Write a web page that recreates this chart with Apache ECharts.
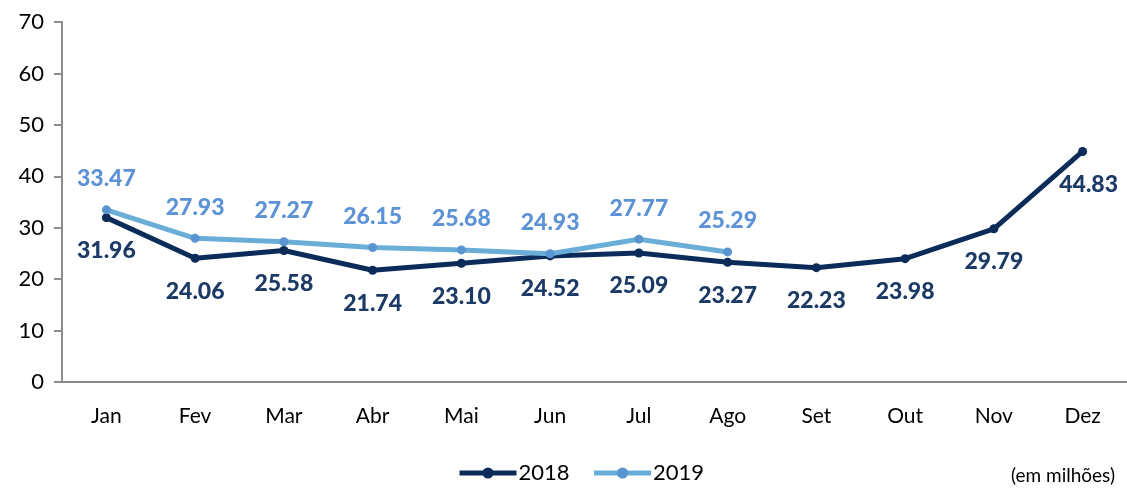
<!DOCTYPE html>
<html>
<head>
<meta charset="utf-8">
<script src="https://cdn.jsdelivr.net/npm/echarts@6/dist/echarts.min.js"></script>
<style>
  html, body { margin: 0; padding: 0; background: #fff; }
  #chart { width: 1127px; height: 490px; }
</style>
</head>
<body>
<div id="chart"></div>
<script>
// dados (em milhões)
var months = ['Jan', 'Fev', 'Mar', 'Abr', 'Mai', 'Jun', 'Jul', 'Ago', 'Set', 'Out', 'Nov', 'Dez']
var data2018 = [31.96, 24.06, 25.58, 21.74, 23.10, 24.52, 25.09, 23.27, 22.23, 23.98, 29.79, 44.83]
var data2019 = [33.47, 27.93, 27.27, 26.15, 25.68, 24.93, 27.77, 25.29]

var font = 'Lato, "Open Sans", sans-serif'
var chart = echarts.init(document.getElementById('chart'))

var fmt = function (p) { return p.value.toFixed(2) }

// último ponto de 2018 tem o rótulo um pouco à direita
var pts2018 = data2018.map(function (v, i) {
  if (i === data2018.length - 1) {
    return { value: v, label: { offset: [6, 0] } }
  }
  return v
})

chart.setOption({
  animation: false,
  textStyle: { fontFamily: font },
  grid: { left: 62, top: 22, width: 1068, height: 360 },
  legend: {
    bottom: 1,
    left: 452,
    itemWidth: 57,
    itemHeight: 14,
    itemGap: 22,
    lineStyle: { width: 5 },
    textStyle: { fontSize: 22, color: '#000', fontFamily: font, padding: [0, 0, 0, -3] },
    data: ['2018', '2019']
  },
  graphic: [{
    type: 'text',
    right: 12,
    bottom: 5,
    style: { text: '(em milhões)', fontSize: 19, fill: '#000', fontFamily: font }
  }],
  xAxis: {
    type: 'category',
    data: months,
    axisLine: { lineStyle: { color: '#8c8c8c', width: 2 } },
    axisTick: { length: 7, lineStyle: { color: '#8c8c8c', width: 2 } },
    axisLabel: { fontSize: 21, color: '#000', margin: 24 }
  },
  yAxis: {
    type: 'value',
    min: 0,
    max: 70,
    interval: 10,
    splitLine: { show: false },
    axisLine: { show: true, lineStyle: { color: '#8c8c8c', width: 2 } },
    axisTick: { show: true, length: 8, lineStyle: { color: '#8c8c8c', width: 2 } },
    axisLabel: { fontSize: 22, color: '#000', margin: 18 }
  },
  series: [
    {
      name: '2018',
      type: 'line',
      data: pts2018,
      color: '#0b2c59',
      lineStyle: { width: 5, color: '#0b2c59' },
      symbol: 'circle',
      symbolSize: 9,
      itemStyle: { color: '#0b2c59' },
      z: 3,
      label: {
        show: true,
        position: 'bottom',
        distance: 17,
        formatter: fmt,
        fontSize: 23,
        fontWeight: 900,
        color: '#1c3a66'
      }
    },
    {
      name: '2019',
      type: 'line',
      data: data2019,
      color: '#6aaed8',
      lineStyle: { width: 5, color: '#6aaed8' },
      symbol: 'circle',
      symbolSize: 9,
      itemStyle: { color: '#5a95d2' },
      z: 4,
      label: {
        show: true,
        position: 'top',
        distance: 15,
        formatter: fmt,
        fontSize: 23,
        fontWeight: 900,
        color: '#5d93d6'
      }
    }
  ]
})
</script>
</body>
</html>
